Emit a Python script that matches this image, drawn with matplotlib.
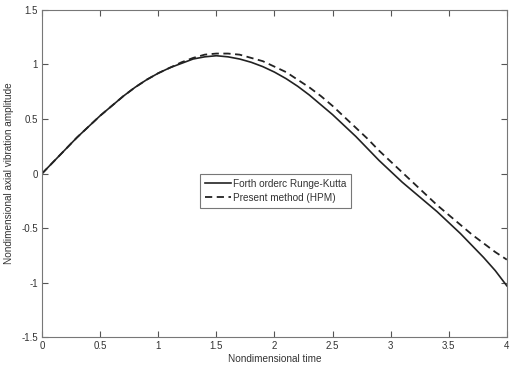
import matplotlib
matplotlib.use("Agg")
import matplotlib.pyplot as plt

# nondimensional time
t = [0, 0.1, 0.2, 0.3, 0.4, 0.5, 0.6, 0.7, 0.8, 0.9, 1.0,
     1.1, 1.2, 1.3, 1.4, 1.5, 1.6, 1.7, 1.8, 1.9, 2.0,
     2.1, 2.2, 2.3, 2.4, 2.5, 2.6, 2.7, 2.8, 2.9, 3.0,
     3.1, 3.2, 3.3, 3.4, 3.5, 3.6, 3.7, 3.8, 3.9, 4.0]

# Runge-Kutta solution
rk = [0, 0.11, 0.22, 0.33, 0.43, 0.53, 0.62, 0.71, 0.79, 0.86, 0.92,
      0.97, 1.01, 1.05, 1.07, 1.08, 1.07, 1.05, 1.02, 0.98, 0.93,
      0.87, 0.80, 0.72, 0.63, 0.54, 0.44, 0.34, 0.23, 0.12, 0.02,
      -0.08, -0.17, -0.26, -0.35, -0.45, -0.55, -0.66, -0.77, -0.89, -1.03]

# HPM solution
hpm = [0, 0.11, 0.22, 0.33, 0.43, 0.53, 0.62, 0.71, 0.79, 0.86, 0.92,
       0.97, 1.02, 1.06, 1.09, 1.10, 1.10, 1.09, 1.06, 1.03, 0.98,
       0.93, 0.86, 0.79, 0.71, 0.62, 0.52, 0.42, 0.32, 0.21, 0.11,
       0.01, -0.09, -0.19, -0.29, -0.38, -0.47, -0.56, -0.64, -0.72, -0.79]

xticks = [0, 0.5, 1, 1.5, 2, 2.5, 3, 3.5, 4]
xticklabels = ['0', '0.5', '1', '1.5', '2', '2.5', '3', '3.5', '4']
yticks = [-1.5, -1, -0.5, 0, 0.5, 1, 1.5]
yticklabels = ['-1.5', '-1', '-0.5', '0', '0.5', '1', '1.5']

plt.rcParams['font.family'] = ['Liberation Sans', 'DejaVu Sans']

fig = plt.figure(figsize=(5.13, 3.68), dpi=100)
ax = fig.add_axes([0.082, 0.084, 0.906, 0.889])

ax.plot(t, rk, color='#222222', linewidth=1.2, linestyle='-', label='Forth orderc Runge-Kutta')
ax.plot(t, hpm, color='#222222', linewidth=1.3, linestyle=(0, (4, 2.5)), label='Present method (HPM)')

ax.set_xlim(0, 4)
ax.set_ylim(-1.5, 1.5)
ax.set_xticks(xticks)
ax.set_xticklabels(xticklabels)
ax.set_yticks(yticks)
ax.set_yticklabels(yticklabels)
ax.tick_params(direction='in', top=True, right=True, length=4, width=0.8,
               labelsize=7, colors='#555555', labelcolor='#333333', pad=3)
for s in ax.spines.values():
    s.set_color('#777777')
    s.set_linewidth(0.8)

ax.set_xlabel('Nondimensional time', fontsize=7.2, color='#333333', labelpad=2)
ax.set_ylabel('Nondimensional axial vibration amplitude', fontsize=7.2, color='#333333', labelpad=5)

leg = ax.legend(loc='upper left', bbox_to_anchor=(0.34, 0.50), fontsize=7.2,
                frameon=True, fancybox=False, edgecolor='#555555', handlelength=2.6,
                handletextpad=0.2, borderpad=0.5, labelspacing=0.4, borderaxespad=0)
leg.get_frame().set_linewidth(0.8)
for txt in leg.get_texts():
    txt.set_color('#333333')

fig.savefig('out.png', dpi=100)
